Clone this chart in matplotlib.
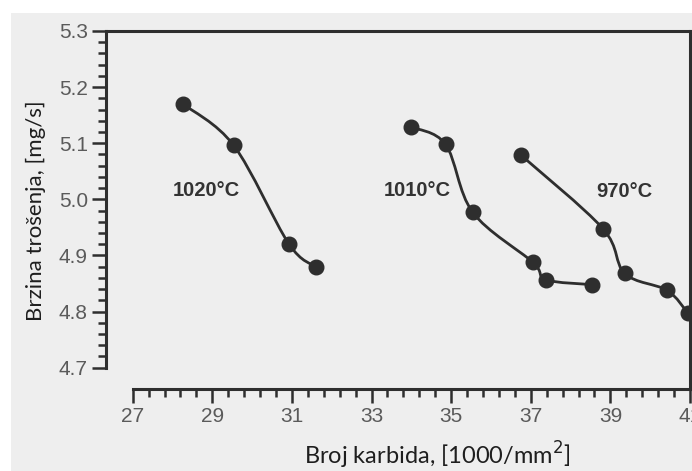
import numpy as np
import matplotlib
matplotlib.use("Agg")
from matplotlib import pyplot as plt
from matplotlib.path import Path
from matplotlib.patches import PathPatch, Rectangle

# Broj karbida [1000/mm2] vs brzina trosenja [mg/s]
x_1020 = [28.26, 29.54, 30.92, 31.60]
y_1020 = [5.170, 5.096, 4.921, 4.880]

x_1010 = [33.98, 34.86, 35.54, 37.05, 37.38, 38.53]
y_1010 = [5.129, 5.098, 4.977, 4.888, 4.857, 4.848]

x_970 = [36.75, 38.81, 39.36, 40.42, 40.94]
y_970 = [5.079, 4.948, 4.868, 4.838, 4.798]

labels = ["1020°C", "1010°C", "970°C"]
label_pos = [(28.86, 5.016), (34.14, 5.015), (39.36, 5.014)]

x_ticks = [27, 29, 31, 33, 35, 37, 39, 41]
y_ticks = [4.7, 4.8, 4.9, 5.0, 5.1, 5.2, 5.3]

ink = "#2e2e2e"
tick_col = "#5a5a5a"


def smooth_path(xs, ys):
    # Catmull-Rom kroz tacke, kao kubni Bezier segmenti
    pts = np.column_stack([xs, ys])
    n = len(pts)
    verts = [pts[0]]
    codes = [Path.MOVETO]
    for i in range(n - 1):
        p0 = pts[i - 1] if i > 0 else pts[i]
        p1 = pts[i]
        p2 = pts[i + 1]
        p3 = pts[i + 2] if i + 2 < n else pts[i + 1]
        c1 = p1 + (p2 - p0) / 6.0
        c2 = p2 - (p3 - p1) / 6.0
        verts += [c1, c2, p2]
        codes += [Path.CURVE4] * 3
    return Path(verts, codes)


fig = plt.figure(figsize=(6.92, 4.71), dpi=100, facecolor="white")
# sivkasta pozadina skena
fig.patches.append(Rectangle((11 / 692, 0), 1, 1 - 13 / 471, transform=fig.transFigure,
                             facecolor="#eeeeee", edgecolor="none", zorder=-10))

ax = fig.add_axes([106 / 692, 1 - 389 / 471, 584 / 692, 358 / 471])
ax.patch.set_alpha(0.0)

ax.set_xlim(26.33, 41.0)
ax.set_ylim(4.662, 5.3)

for xs, ys in [(x_1020, y_1020), (x_1010, y_1010), (x_970, y_970)]:
    ax.add_patch(PathPatch(smooth_path(xs, ys), facecolor="none", edgecolor=ink,
                           lw=2.0, transform=ax.transData, clip_on=False))
    ax.plot(xs, ys, "o", color=ink, ms=10.5, clip_on=False, zorder=3)

for txt, (tx, ty) in zip(labels, label_pos):
    ax.text(tx, ty, txt, ha="center", va="center", fontsize=14.5, fontweight="bold",
            family="Liberation Sans", color="#333333")

for s in ax.spines.values():
    s.set_linewidth(2.2)
    s.set_color(ink)
ax.spines["left"].set_bounds(y_ticks[0], y_ticks[-1])
ax.spines["bottom"].set_bounds(x_ticks[0], x_ticks[-1])

# sitne podjele samo unutar ose
x_minor = [x_ticks[0] + 0.4 * i for i in range(36) if i % 5]
y_minor = [y_ticks[0] + 0.02 * i for i in range(31) if i % 5]

ax.set_xticks(x_ticks)
ax.set_xticks(x_minor, minor=True)
ax.set_yticks(y_ticks)
ax.set_yticks(y_minor, minor=True)
ax.set_xticklabels([str(t) for t in x_ticks])
ax.set_yticklabels([f"{t:.1f}" for t in y_ticks])

ax.tick_params(which="major", direction="out", length=10, width=1.8, color=ink,
               labelsize=15, labelcolor=tick_col)
ax.tick_params(which="minor", direction="out", length=5.5, width=1.8, color=ink)
ax.tick_params(axis="x", pad=3)
ax.tick_params(axis="y", pad=3)
ax.tick_params(top=False, right=False)
for lab in ax.get_xticklabels() + ax.get_yticklabels():
    lab.set_family("Liberation Sans")

fig.text(437 / 692, 1 - 455 / 471, "Broj karbida, [1000/mm$^2$]", ha="center", va="center",
         fontsize=17, family="Lato", color="#1e1e1e")
fig.text(36 / 692, 1 - 211 / 471, "Brzina trošenja, [mg/s]", ha="center", va="center",
         rotation=90, fontsize=16, family="Lato", color="#1e1e1e")

fig.savefig("out.png", dpi=100, facecolor=fig.get_facecolor())
